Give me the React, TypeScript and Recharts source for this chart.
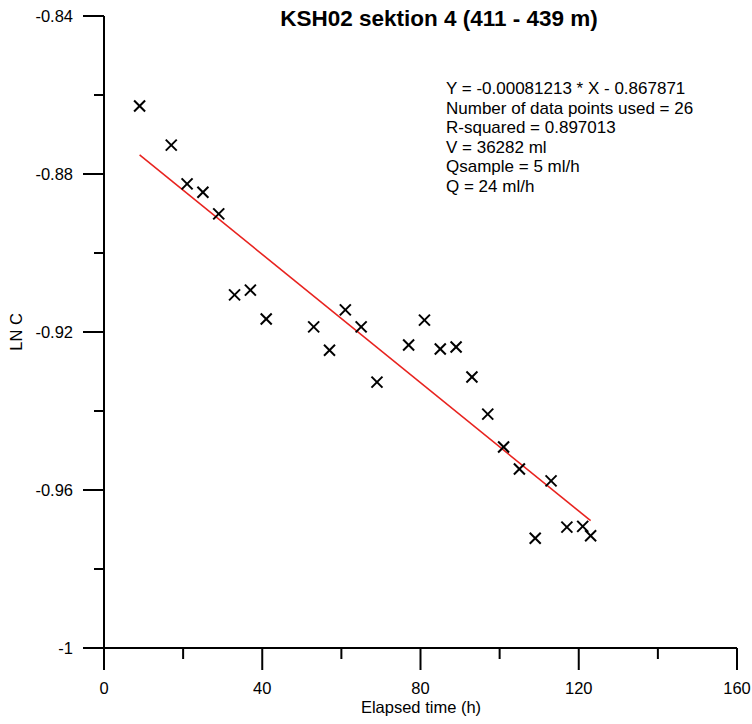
import React from 'react';
import { ComposedChart, Scatter, Line, XAxis, YAxis } from 'recharts';

const elapsedHours = [9, 17, 21, 25, 29, 33, 37, 41, 53, 57, 61, 65, 69, 77, 81, 85, 89, 93, 97, 101, 105, 109, 113, 117, 121, 123];
const lnC = [-0.8628, -0.8727, -0.8825, -0.8846, -0.8901, -0.9106, -0.9094, -0.9167, -0.9187, -0.9246, -0.9144, -0.9187, -0.9327, -0.9233, -0.917, -0.9243, -0.9238, -0.9314, -0.9408, -0.9491, -0.9547, -0.9722, -0.9577, -0.9694, -0.9692, -0.9716];

const slope = -0.00081213;
const intercept = -0.867871;
const fitRange = [9, 123];

const xTicks = [0, 20, 40, 60, 80, 100, 120, 140, 160];
const yTicks = [-1, -0.98, -0.96, -0.94, -0.92, -0.9, -0.88, -0.86, -0.84];

const titleText = 'KSH02 sektion 4 (411 - 439 m)';
const infoLines = [
  'Y = -0.00081213 * X - 0.867871',
  'Number of data points used = 26',
  'R-squared = 0.897013',
  'V = 36282 ml',
  'Qsample = 5 ml/h',
  'Q = 24 ml/h',
];

const points = elapsedHours.map((x, i) => ({ x, y: lnC[i] }));
const fitLine = fitRange.map((x) => ({ x, y: slope * x + intercept }));

const FONT = '"Liberation Sans", Arial, sans-serif';

const Cross = (props: any) => {
  const { cx, cy } = props;
  if (cx == null || cy == null) return null;
  const s = 5.5;
  return (
    <g stroke="#000" strokeWidth={2}>
      <line x1={cx - s} y1={cy - s} x2={cx + s} y2={cy + s} />
      <line x1={cx - s} y1={cy + s} x2={cx + s} y2={cy - s} />
    </g>
  );
};

const YTick = (props: any) => {
  const { x, y, payload } = props;
  const v = payload.value;
  const major = Math.round(Math.abs(v) * 100) % 4 === 0;
  const len = major ? 21 : 10;
  return (
    <g>
      <line x1={x - len} y1={y} x2={x} y2={y} stroke="#000" strokeWidth={2} />
      {major && (
        <text x={x - 31} y={y} dy={6} textAnchor="end" fontSize={16.5} fontFamily={FONT} fill="#000">
          {v === -1 ? '-1' : v.toFixed(2)}
        </text>
      )}
    </g>
  );
};

const XTick = (props: any) => {
  const { x, y, payload } = props;
  const v = payload.value;
  const major = v % 40 === 0;
  const len = major ? 22 : 11;
  return (
    <g>
      <line x1={x} y1={y} x2={x} y2={y + len} stroke="#000" strokeWidth={2} />
      {major && (
        <text x={x} y={y + 46} textAnchor="middle" fontSize={16.5} fontFamily={FONT} fill="#000">
          {String(v)}
        </text>
      )}
    </g>
  );
};

export default function App() {
  return (
    <div style={{ position: 'absolute', left: 0, top: 0, width: 752, height: 724, background: '#fff' }}>
      <ComposedChart width={752} height={724} margin={{ top: 16, right: 15, bottom: 0, left: 0 }}>
        <XAxis
          type="number"
          dataKey="x"
          domain={[0, 160]}
          ticks={xTicks}
          interval={0}
          tickLine={false}
          tickSize={0}
          tickMargin={0}
          height={76}
          axisLine={{ stroke: '#000', strokeWidth: 2 }}
          tick={<XTick />}
          allowDataOverflow
        />
        <YAxis
          type="number"
          dataKey="y"
          domain={[-1, -0.84]}
          ticks={yTicks}
          interval={0}
          tickLine={false}
          tickSize={0}
          tickMargin={0}
          width={104}
          axisLine={{ stroke: '#000', strokeWidth: 2 }}
          tick={<YTick />}
          allowDataOverflow
        />
        <Line
          data={fitLine}
          dataKey="y"
          type="linear"
          stroke="#e8231f"
          strokeWidth={1.6}
          dot={false}
          activeDot={false}
          isAnimationActive={false}
        />
        <Scatter data={points} dataKey="y" shape={<Cross />} isAnimationActive={false} />
        <text x={439} y={26} textAnchor="middle" fontSize={22.5} fontWeight="bold" fontFamily={FONT} fill="#000">
          {titleText}
        </text>
        {infoLines.map((t, i) => (
          <text key={i} x={446} y={94 + i * 19.6} fontSize={17} fontFamily={FONT} fill="#000">
            {t}
          </text>
        ))}
        <text x={421} y={713} textAnchor="middle" fontSize={16.5} fontFamily={FONT} fill="#000">
          Elapsed time (h)
        </text>
        <text
          x={22}
          y={332}
          textAnchor="middle"
          fontSize={16.5}
          fontFamily={FONT}
          fill="#000"
          transform="rotate(-90 22 332)"
        >
          LN C
        </text>
      </ComposedChart>
    </div>
  );
}
